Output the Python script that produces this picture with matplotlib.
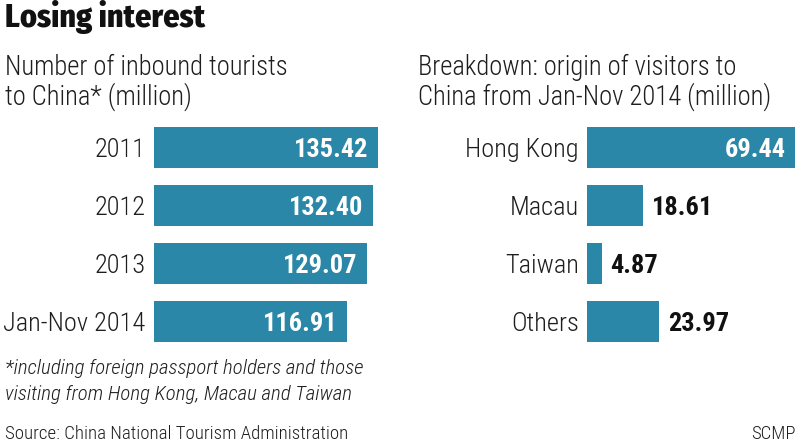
import matplotlib
matplotlib.use("Agg")
import matplotlib.pyplot as plt
from matplotlib import font_manager as fm

# ---- data ----
left_categories = ["2011", "2012", "2013", "Jan-Nov 2014"]
left_values = [135.42, 132.40, 129.07, 116.91]
right_categories = ["Hong Kong", "Macau", "Taiwan", "Others"]
right_values = [69.44, 18.61, 4.87, 23.97]

title = "Losing interest"
left_subtitle = ["Number of inbound tourists", "to China* (million)"]
right_subtitle = ["Breakdown: origin of visitors to", "China from Jan-Nov 2014 (million)"]
footnote = ["*including foreign passport holders and those",
            "visiting from Hong Kong, Macau and Taiwan"]
source = "Source: China National Tourism Administration"
credit = "SCMP"

BAR = "#2a87a7"
TXT = "#1e1e1e"


def _w(f):
    w = f.weight
    if isinstance(w, str):
        w = fm.weight_dict.get(w, 400)
    return int(w)


def font(name, weight, size, style="normal"):
    cands = [f for f in fm.fontManager.ttflist if f.name == name and f.style == style]
    if not cands:
        cands = [f for f in fm.fontManager.ttflist if f.name == name]
    if not cands:
        cands = [f for f in fm.fontManager.ttflist if f.name == "Roboto Condensed" and f.style == style]
    if not cands:
        return fm.FontProperties(family="DejaVu Sans", weight=weight, style=style, size=size)
    best = min(cands, key=lambda f: abs(_w(f) - weight))
    return fm.FontProperties(fname=best.fname, size=size)


FAM = "Roboto Condensed"
W, H = 800, 443
fig = plt.figure(figsize=(W / 100, H / 100), dpi=100)
fig.patch.set_facecolor("white")


def fx(x):
    return x / W


def fy(y):
    return 1 - y / H


def draw_panel(left_px, width_px, px_per_unit, cats, vals, inside_min):
    ax = fig.add_axes([fx(left_px), fy(350.5), width_px / W, 232 / H])
    ax.set_xlim(0, width_px / px_per_unit)
    ax.set_ylim(len(cats) - 0.5, -0.5)
    ypos = list(range(len(cats)))
    ax.barh(ypos, vals, height=0.707, color=BAR, edgecolor="none")
    ax.set_yticks(ypos)
    ax.set_yticklabels(cats, color=TXT, fontproperties=font(FAM, 300, 19))
    ax.tick_params(axis="y", length=0, pad=6)
    ax.set_xticks([])
    for s in ax.spines.values():
        s.set_visible(False)
    ax.patch.set_alpha(0)
    bold = font(FAM, 700, 19)
    for y, v in zip(ypos, vals):
        if v >= inside_min:
            ax.text(v - 10 / px_per_unit, y, f"{v:.2f}", ha="right", va="center_baseline",
                    color="white", fontproperties=bold)
        else:
            ax.text(v + 9 / px_per_unit, y, f"{v:.2f}", ha="left", va="center_baseline",
                    color="#111111", fontproperties=bold)
    return ax


draw_panel(154, 240, 1.654, left_categories, left_values, 50)
draw_panel(587, 210, 3.0, right_categories, right_values, 40)

fig.text(fx(5), fy(27), title, color="#111111", ha="left", va="baseline",
         fontproperties=font("Fira Sans Condensed", 800, 23))
sub = font(FAM, 300, 19.2)
for i, line in enumerate(left_subtitle):
    fig.text(fx(5), fy(75 + 30 * i), line, color=TXT, ha="left", va="baseline", fontproperties=sub)
for i, line in enumerate(right_subtitle):
    fig.text(fx(418), fy(75 + 30 * i), line, color=TXT, ha="left", va="baseline", fontproperties=sub)
ital = font(FAM, 300, 15, style="italic")
for i, line in enumerate(footnote):
    fig.text(fx(5), fy(374 + 26 * i), line, color=TXT, ha="left", va="baseline", fontproperties=ital)
small = font(FAM, 300, 13.6)
fig.text(fx(5), fy(439), source, color=TXT, ha="left", va="baseline", fontproperties=small)
fig.text(fx(796), fy(439), credit, color=TXT, ha="right", va="baseline",
         fontproperties=font(FAM, 300, 13.5))

fig.savefig("out.png", dpi=100, facecolor="white")
